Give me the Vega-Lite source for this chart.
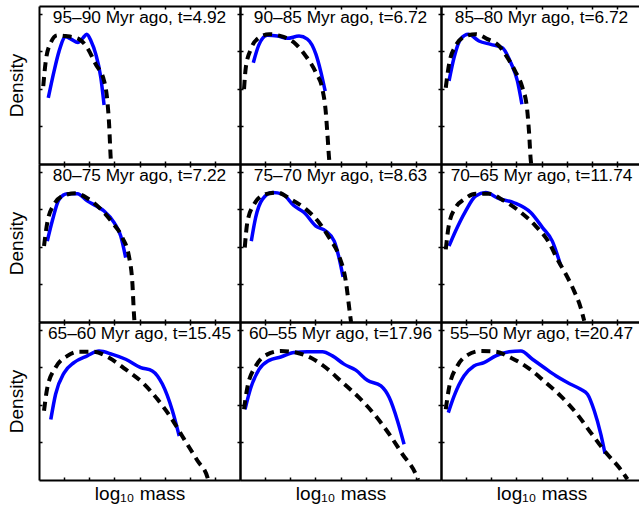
{
"$schema":"https://vega.github.io/schema/vega-lite/v6.json",
"padding":{"left":7,"top":5,"right":0,"bottom":0},
"background":"white",
"config":{
 "view":{"stroke":null},
 "title":{"font":"Liberation Sans","fontSize":17.3,"fontWeight":"normal","color":"black","offset":-21,"anchor":"middle","frame":"group","baseline":"alphabetic"},
 "axis":{"labels":false,"grid":false,"domainColor":"black","domainWidth":2,"tickColor":"black","tickWidth":1.5,"tickSize":-3,"titleFont":"Liberation Sans","titleFontSize":19,"titleFontWeight":"normal","titleColor":"black"},
 "axisX":{"titlePadding":4},
 "axisY":{"titlePadding":12}
},
"data":{"values":[
{"p":1,"s":"o","x":0.37,"y":1.76},{"p":1,"s":"o","x":0.6,"y":2.47},{"p":1,"s":"o","x":0.8,"y":3.0},{"p":1,"s":"o","x":1.06,"y":3.38},{"p":1,"s":"o","x":1.27,"y":3.32},{"p":1,"s":"o","x":1.55,"y":3.23},{"p":1,"s":"o","x":1.75,"y":3.35},{"p":1,"s":"o","x":1.9,"y":3.45},{"p":1,"s":"o","x":2.07,"y":3.27},{"p":1,"s":"o","x":2.26,"y":2.92},{"p":1,"s":"o","x":2.46,"y":2.3},{"p":1,"s":"o","x":2.59,"y":1.57},
{"p":1,"s":"f","x":0.17,"y":2.07},{"p":1,"s":"f","x":0.27,"y":2.74},{"p":1,"s":"f","x":0.47,"y":3.23},{"p":1,"s":"f","x":0.73,"y":3.42},{"p":1,"s":"f","x":1.06,"y":3.4},{"p":1,"s":"f","x":1.59,"y":3.32},{"p":1,"s":"f","x":1.92,"y":3.09},{"p":1,"s":"f","x":2.26,"y":2.65},{"p":1,"s":"f","x":2.59,"y":2.21},{"p":1,"s":"f","x":2.72,"y":1.68},{"p":1,"s":"f","x":2.79,"y":1.06},{"p":1,"s":"f","x":2.85,"y":0.21},{"p":1,"s":"f","x":2.87,"y":0},
{"p":2,"s":"o","x":0.53,"y":2.69},{"p":2,"s":"o","x":0.76,"y":3.18},{"p":2,"s":"o","x":1.09,"y":3.42},{"p":2,"s":"o","x":1.49,"y":3.4},{"p":2,"s":"o","x":1.88,"y":3.34},{"p":2,"s":"o","x":2.35,"y":3.4},{"p":2,"s":"o","x":2.68,"y":3.32},{"p":2,"s":"o","x":3.02,"y":2.92},{"p":2,"s":"o","x":3.21,"y":2.47},{"p":2,"s":"o","x":3.39,"y":1.94},
{"p":2,"s":"f","x":0.16,"y":1.99},{"p":2,"s":"f","x":0.23,"y":2.56},{"p":2,"s":"f","x":0.43,"y":3.05},{"p":2,"s":"f","x":0.76,"y":3.36},{"p":2,"s":"f","x":1.16,"y":3.45},{"p":2,"s":"f","x":1.62,"y":3.4},{"p":2,"s":"f","x":2.15,"y":3.23},{"p":2,"s":"f","x":2.62,"y":2.87},{"p":2,"s":"f","x":3.02,"y":2.43},{"p":2,"s":"f","x":3.28,"y":1.99},{"p":2,"s":"f","x":3.41,"y":1.41},{"p":2,"s":"f","x":3.48,"y":0.79},{"p":2,"s":"f","x":3.55,"y":0.12},{"p":2,"s":"f","x":3.57,"y":0},
{"p":3,"s":"o","x":0.32,"y":2.21},{"p":3,"s":"o","x":0.52,"y":2.83},{"p":3,"s":"o","x":0.78,"y":3.32},{"p":3,"s":"o","x":1.09,"y":3.45},{"p":3,"s":"o","x":1.51,"y":3.27},{"p":3,"s":"o","x":1.98,"y":3.18},{"p":3,"s":"o","x":2.44,"y":3.09},{"p":3,"s":"o","x":2.78,"y":2.69},{"p":3,"s":"o","x":3.04,"y":2.21},{"p":3,"s":"o","x":3.22,"y":1.59},
{"p":3,"s":"f","x":0.19,"y":2.03},{"p":3,"s":"f","x":0.32,"y":2.65},{"p":3,"s":"f","x":0.58,"y":3.14},{"p":3,"s":"f","x":0.92,"y":3.38},{"p":3,"s":"f","x":1.38,"y":3.45},{"p":3,"s":"f","x":1.85,"y":3.32},{"p":3,"s":"f","x":2.31,"y":3.14},{"p":3,"s":"f","x":2.64,"y":2.83},{"p":3,"s":"f","x":2.95,"y":2.47},{"p":3,"s":"f","x":3.24,"y":2.03},{"p":3,"s":"f","x":3.42,"y":1.5},{"p":3,"s":"f","x":3.51,"y":0.79},{"p":3,"s":"f","x":3.57,"y":0.12},{"p":3,"s":"f","x":3.59,"y":0},
{"p":4,"s":"o","x":0.33,"y":2.15},{"p":4,"s":"o","x":0.53,"y":2.69},{"p":4,"s":"o","x":0.8,"y":3.26},{"p":4,"s":"o","x":1.13,"y":3.41},{"p":4,"s":"o","x":1.53,"y":3.41},{"p":4,"s":"o","x":1.92,"y":3.22},{"p":4,"s":"o","x":2.26,"y":3.09},{"p":4,"s":"o","x":2.59,"y":2.95},{"p":4,"s":"o","x":2.99,"y":2.64},{"p":4,"s":"o","x":3.25,"y":2.29},{"p":4,"s":"o","x":3.45,"y":1.71},
{"p":4,"s":"f","x":0.2,"y":2.02},{"p":4,"s":"f","x":0.33,"y":2.64},{"p":4,"s":"f","x":0.6,"y":3.13},{"p":4,"s":"f","x":1.0,"y":3.37},{"p":4,"s":"f","x":1.46,"y":3.42},{"p":4,"s":"f","x":1.99,"y":3.26},{"p":4,"s":"f","x":2.46,"y":3.0},{"p":4,"s":"f","x":2.92,"y":2.64},{"p":4,"s":"f","x":3.32,"y":2.24},{"p":4,"s":"f","x":3.59,"y":1.71},{"p":4,"s":"f","x":3.72,"y":1.0},{"p":4,"s":"f","x":3.78,"y":0.2},{"p":4,"s":"f","x":3.8,"y":0},
{"p":5,"s":"o","x":0.45,"y":2.15},{"p":5,"s":"o","x":0.62,"y":2.77},{"p":5,"s":"o","x":0.89,"y":3.26},{"p":5,"s":"o","x":1.29,"y":3.44},{"p":5,"s":"o","x":1.69,"y":3.4},{"p":5,"s":"o","x":2.15,"y":3.09},{"p":5,"s":"o","x":2.55,"y":2.91},{"p":5,"s":"o","x":3.02,"y":2.55},{"p":5,"s":"o","x":3.41,"y":2.42},{"p":5,"s":"o","x":3.75,"y":2.15},{"p":5,"s":"o","x":3.94,"y":1.71},{"p":5,"s":"o","x":4.1,"y":1.2},
{"p":5,"s":"f","x":0.19,"y":1.98},{"p":5,"s":"f","x":0.29,"y":2.64},{"p":5,"s":"f","x":0.56,"y":3.13},{"p":5,"s":"f","x":1.02,"y":3.4},{"p":5,"s":"f","x":1.49,"y":3.44},{"p":5,"s":"f","x":2.02,"y":3.26},{"p":5,"s":"f","x":2.62,"y":3.0},{"p":5,"s":"f","x":3.15,"y":2.64},{"p":5,"s":"f","x":3.55,"y":2.24},{"p":5,"s":"f","x":3.94,"y":1.76},{"p":5,"s":"f","x":4.21,"y":1.09},{"p":5,"s":"f","x":4.38,"y":0.2},{"p":5,"s":"f","x":4.42,"y":0},
{"p":6,"s":"o","x":0.32,"y":2.02},{"p":6,"s":"o","x":0.58,"y":2.42},{"p":6,"s":"o","x":0.98,"y":2.95},{"p":6,"s":"o","x":1.38,"y":3.35},{"p":6,"s":"o","x":1.78,"y":3.44},{"p":6,"s":"o","x":2.31,"y":3.28},{"p":6,"s":"o","x":2.91,"y":3.17},{"p":6,"s":"o","x":3.57,"y":2.91},{"p":6,"s":"o","x":4.04,"y":2.51},{"p":6,"s":"o","x":4.43,"y":2.15},{"p":6,"s":"o","x":4.77,"y":1.49},
{"p":6,"s":"f","x":0.19,"y":1.93},{"p":6,"s":"f","x":0.32,"y":2.6},{"p":6,"s":"f","x":0.58,"y":3.04},{"p":6,"s":"f","x":0.92,"y":3.26},{"p":6,"s":"f","x":1.38,"y":3.41},{"p":6,"s":"f","x":1.91,"y":3.41},{"p":6,"s":"f","x":2.51,"y":3.22},{"p":6,"s":"f","x":3.11,"y":2.95},{"p":6,"s":"f","x":3.77,"y":2.55},{"p":6,"s":"f","x":4.3,"y":2.11},{"p":6,"s":"f","x":4.63,"y":1.67},{"p":6,"s":"f","x":4.97,"y":1.27},{"p":6,"s":"f","x":5.3,"y":0.82},{"p":6,"s":"f","x":5.56,"y":0.38},{"p":6,"s":"f","x":5.7,"y":0.03},
{"p":7,"s":"o","x":0.47,"y":1.61},{"p":7,"s":"o","x":0.66,"y":2.28},{"p":7,"s":"o","x":1.0,"y":2.85},{"p":7,"s":"o","x":1.39,"y":3.12},{"p":7,"s":"o","x":1.92,"y":3.3},{"p":7,"s":"o","x":2.39,"y":3.43},{"p":7,"s":"o","x":2.92,"y":3.34},{"p":7,"s":"o","x":3.45,"y":3.21},{"p":7,"s":"o","x":4.05,"y":2.99},{"p":7,"s":"o","x":4.51,"y":2.9},{"p":7,"s":"o","x":4.91,"y":2.55},{"p":7,"s":"o","x":5.31,"y":1.84},{"p":7,"s":"o","x":5.58,"y":1.17},
{"p":7,"s":"f","x":0.2,"y":1.84},{"p":7,"s":"f","x":0.33,"y":2.45},{"p":7,"s":"f","x":0.66,"y":2.99},{"p":7,"s":"f","x":1.13,"y":3.3},{"p":7,"s":"f","x":1.59,"y":3.41},{"p":7,"s":"f","x":2.19,"y":3.41},{"p":7,"s":"f","x":2.79,"y":3.25},{"p":7,"s":"f","x":3.45,"y":2.94},{"p":7,"s":"f","x":4.12,"y":2.59},{"p":7,"s":"f","x":4.71,"y":2.15},{"p":7,"s":"f","x":5.25,"y":1.66},{"p":7,"s":"f","x":5.78,"y":1.08},{"p":7,"s":"f","x":6.31,"y":0.51},{"p":7,"s":"f","x":6.71,"y":0.06},{"p":7,"s":"f","x":6.73,"y":0},
{"p":8,"s":"o","x":0.2,"y":1.88},{"p":8,"s":"o","x":0.43,"y":2.45},{"p":8,"s":"o","x":0.76,"y":2.94},{"p":8,"s":"o","x":1.16,"y":3.18},{"p":8,"s":"o","x":1.62,"y":3.27},{"p":8,"s":"o","x":2.15,"y":3.39},{"p":8,"s":"o","x":2.68,"y":3.41},{"p":8,"s":"o","x":3.28,"y":3.41},{"p":8,"s":"o","x":3.68,"y":3.3},{"p":8,"s":"o","x":4.14,"y":3.08},{"p":8,"s":"o","x":4.61,"y":2.92},{"p":8,"s":"o","x":5.07,"y":2.65},{"p":8,"s":"o","x":5.61,"y":2.5},{"p":8,"s":"o","x":5.94,"y":2.19},{"p":8,"s":"o","x":6.27,"y":1.57},{"p":8,"s":"o","x":6.53,"y":0.95},
{"p":8,"s":"f","x":0.16,"y":1.88},{"p":8,"s":"f","x":0.29,"y":2.45},{"p":8,"s":"f","x":0.63,"y":3.03},{"p":8,"s":"f","x":1.09,"y":3.34},{"p":8,"s":"f","x":1.62,"y":3.43},{"p":8,"s":"f","x":2.22,"y":3.39},{"p":8,"s":"f","x":2.82,"y":3.25},{"p":8,"s":"f","x":3.41,"y":2.99},{"p":8,"s":"f","x":4.08,"y":2.59},{"p":8,"s":"f","x":4.74,"y":2.19},{"p":8,"s":"f","x":5.34,"y":1.75},{"p":8,"s":"f","x":5.94,"y":1.22},{"p":8,"s":"f","x":6.47,"y":0.68},{"p":8,"s":"f","x":7.0,"y":0.15},{"p":8,"s":"f","x":7.09,"y":0},
{"p":9,"s":"o","x":0.29,"y":1.79},{"p":9,"s":"o","x":0.52,"y":2.23},{"p":9,"s":"o","x":0.92,"y":2.77},{"p":9,"s":"o","x":1.31,"y":3.03},{"p":9,"s":"o","x":1.71,"y":3.12},{"p":9,"s":"o","x":2.18,"y":3.3},{"p":9,"s":"o","x":2.71,"y":3.41},{"p":9,"s":"o","x":3.18,"y":3.43},{"p":9,"s":"o","x":3.64,"y":3.21},{"p":9,"s":"o","x":4.1,"y":2.99},{"p":9,"s":"o","x":4.57,"y":2.77},{"p":9,"s":"o","x":5.03,"y":2.59},{"p":9,"s":"o","x":5.56,"y":2.41},{"p":9,"s":"o","x":5.83,"y":2.28},{"p":9,"s":"o","x":6.1,"y":1.84},{"p":9,"s":"o","x":6.36,"y":1.22},{"p":9,"s":"o","x":6.53,"y":0.7},
{"p":9,"s":"f","x":0.19,"y":1.88},{"p":9,"s":"f","x":0.32,"y":2.45},{"p":9,"s":"f","x":0.65,"y":3.03},{"p":9,"s":"f","x":1.05,"y":3.32},{"p":9,"s":"f","x":1.58,"y":3.43},{"p":9,"s":"f","x":2.18,"y":3.41},{"p":9,"s":"f","x":2.78,"y":3.25},{"p":9,"s":"f","x":3.45,"y":2.99},{"p":9,"s":"f","x":4.1,"y":2.63},{"p":9,"s":"f","x":4.77,"y":2.23},{"p":9,"s":"f","x":5.37,"y":1.79},{"p":9,"s":"f","x":5.96,"y":1.26},{"p":9,"s":"f","x":6.56,"y":0.73},{"p":9,"s":"f","x":7.09,"y":0.33},{"p":9,"s":"f","x":7.42,"y":0.02}
]},
"columns":3,
"spacing":0,
"align":"each",
"bounds":"flush",
"concat":[
{"width":201,"height":158,"title":"95–90 Myr ago, t=4.92","transform":[{"filter":"datum.p==1"}],
 "layer":[
  {"transform":[{"filter":"datum.s=='o'"}],"mark":{"type":"line","color":"#0000ff","strokeWidth":3.5,"interpolate":"monotone"},
   "encoding":{"x":{"field":"x","type":"quantitative","scale":{"domain":[0,8],"nice":false},"axis":{"orient":"bottom","title":null,"values":[1,2,3,4,5,6,7]}},
               "y":{"field":"y","type":"quantitative","scale":{"domain":[0,4.2],"nice":false},"axis":{"orient":"left","title":"Density","values":[1,2,3,4]}}}},
  {"transform":[{"filter":"datum.s=='f'"}],"mark":{"type":"line","color":"black","strokeWidth":4,"strokeDash":[9,6],"interpolate":"monotone"},
   "encoding":{"x":{"field":"x","type":"quantitative","scale":{"domain":[0,8],"nice":false},"axis":{"orient":"top","title":null,"values":[1,2,3,4,5,6,7]}},
               "y":{"field":"y","type":"quantitative","scale":{"domain":[0,4.2],"nice":false},"axis":{"orient":"right","title":null,"values":[1,2,3,4]}}}}
 ],
 "resolve":{"axis":{"x":"independent","y":"independent"}}},
{"width":201,"height":158,"title":"90–85 Myr ago, t=6.72","transform":[{"filter":"datum.p==2"}],
 "layer":[
  {"transform":[{"filter":"datum.s=='o'"}],"mark":{"type":"line","color":"#0000ff","strokeWidth":3.5,"interpolate":"monotone"},
   "encoding":{"x":{"field":"x","type":"quantitative","scale":{"domain":[0,8],"nice":false},"axis":{"orient":"bottom","title":null,"values":[1,2,3,4,5,6,7]}},
               "y":{"field":"y","type":"quantitative","scale":{"domain":[0,4.2],"nice":false},"axis":{"orient":"left","title":null,"values":[1,2,3,4]}}}},
  {"transform":[{"filter":"datum.s=='f'"}],"mark":{"type":"line","color":"black","strokeWidth":4,"strokeDash":[9,6],"interpolate":"monotone"},
   "encoding":{"x":{"field":"x","type":"quantitative","scale":{"domain":[0,8],"nice":false},"axis":{"orient":"top","title":null,"values":[1,2,3,4,5,6,7]}},
               "y":{"field":"y","type":"quantitative","scale":{"domain":[0,4.2],"nice":false},"axis":{"orient":"right","title":null,"values":[1,2,3,4]}}}}
 ],
 "resolve":{"axis":{"x":"independent","y":"independent"}}},
{"width":201,"height":158,"title":"85–80 Myr ago, t=6.72","transform":[{"filter":"datum.p==3"}],
 "layer":[
  {"transform":[{"filter":"datum.s=='o'"}],"mark":{"type":"line","color":"#0000ff","strokeWidth":3.5,"interpolate":"monotone"},
   "encoding":{"x":{"field":"x","type":"quantitative","scale":{"domain":[0,8],"nice":false},"axis":{"orient":"bottom","title":null,"values":[1,2,3,4,5,6,7]}},
               "y":{"field":"y","type":"quantitative","scale":{"domain":[0,4.2],"nice":false},"axis":{"orient":"left","title":null,"values":[1,2,3,4]}}}},
  {"transform":[{"filter":"datum.s=='f'"}],"mark":{"type":"line","color":"black","strokeWidth":4,"strokeDash":[9,6],"interpolate":"monotone"},
   "encoding":{"x":{"field":"x","type":"quantitative","scale":{"domain":[0,8],"nice":false},"axis":{"orient":"top","title":null,"values":[1,2,3,4,5,6,7]}},
               "y":{"field":"y","type":"quantitative","scale":{"domain":[0,4.2],"nice":false},"axis":{"orient":"right","title":null,"values":[1,2,3,4]}}}}
 ],
 "resolve":{"axis":{"x":"independent","y":"independent"}}},
{"width":201,"height":158,"title":"80–75 Myr ago, t=7.22","transform":[{"filter":"datum.p==4"}],
 "layer":[
  {"transform":[{"filter":"datum.s=='o'"}],"mark":{"type":"line","color":"#0000ff","strokeWidth":3.5,"interpolate":"monotone"},
   "encoding":{"x":{"field":"x","type":"quantitative","scale":{"domain":[0,8],"nice":false},"axis":{"orient":"bottom","title":null,"values":[1,2,3,4,5,6,7]}},
               "y":{"field":"y","type":"quantitative","scale":{"domain":[0,4.2],"nice":false},"axis":{"orient":"left","title":"Density","values":[1,2,3,4]}}}},
  {"transform":[{"filter":"datum.s=='f'"}],"mark":{"type":"line","color":"black","strokeWidth":4,"strokeDash":[9,6],"interpolate":"monotone"},
   "encoding":{"x":{"field":"x","type":"quantitative","scale":{"domain":[0,8],"nice":false},"axis":{"orient":"top","title":null,"values":[1,2,3,4,5,6,7]}},
               "y":{"field":"y","type":"quantitative","scale":{"domain":[0,4.2],"nice":false},"axis":{"orient":"right","title":null,"values":[1,2,3,4]}}}}
 ],
 "resolve":{"axis":{"x":"independent","y":"independent"}}},
{"width":201,"height":158,"title":"75–70 Myr ago, t=8.63","transform":[{"filter":"datum.p==5"}],
 "layer":[
  {"transform":[{"filter":"datum.s=='o'"}],"mark":{"type":"line","color":"#0000ff","strokeWidth":3.5,"interpolate":"monotone"},
   "encoding":{"x":{"field":"x","type":"quantitative","scale":{"domain":[0,8],"nice":false},"axis":{"orient":"bottom","title":null,"values":[1,2,3,4,5,6,7]}},
               "y":{"field":"y","type":"quantitative","scale":{"domain":[0,4.2],"nice":false},"axis":{"orient":"left","title":null,"values":[1,2,3,4]}}}},
  {"transform":[{"filter":"datum.s=='f'"}],"mark":{"type":"line","color":"black","strokeWidth":4,"strokeDash":[9,6],"interpolate":"monotone"},
   "encoding":{"x":{"field":"x","type":"quantitative","scale":{"domain":[0,8],"nice":false},"axis":{"orient":"top","title":null,"values":[1,2,3,4,5,6,7]}},
               "y":{"field":"y","type":"quantitative","scale":{"domain":[0,4.2],"nice":false},"axis":{"orient":"right","title":null,"values":[1,2,3,4]}}}}
 ],
 "resolve":{"axis":{"x":"independent","y":"independent"}}},
{"width":201,"height":158,"title":"70–65 Myr ago, t=11.74","transform":[{"filter":"datum.p==6"}],
 "layer":[
  {"transform":[{"filter":"datum.s=='o'"}],"mark":{"type":"line","color":"#0000ff","strokeWidth":3.5,"interpolate":"monotone"},
   "encoding":{"x":{"field":"x","type":"quantitative","scale":{"domain":[0,8],"nice":false},"axis":{"orient":"bottom","title":null,"values":[1,2,3,4,5,6,7]}},
               "y":{"field":"y","type":"quantitative","scale":{"domain":[0,4.2],"nice":false},"axis":{"orient":"left","title":null,"values":[1,2,3,4]}}}},
  {"transform":[{"filter":"datum.s=='f'"}],"mark":{"type":"line","color":"black","strokeWidth":4,"strokeDash":[9,6],"interpolate":"monotone"},
   "encoding":{"x":{"field":"x","type":"quantitative","scale":{"domain":[0,8],"nice":false},"axis":{"orient":"top","title":null,"values":[1,2,3,4,5,6,7]}},
               "y":{"field":"y","type":"quantitative","scale":{"domain":[0,4.2],"nice":false},"axis":{"orient":"right","title":null,"values":[1,2,3,4]}}}}
 ],
 "resolve":{"axis":{"x":"independent","y":"independent"}}},
{"width":201,"height":158,"title":"65–60 Myr ago, t=15.45","transform":[{"filter":"datum.p==7"}],
 "layer":[
  {"transform":[{"filter":"datum.s=='o'"}],"mark":{"type":"line","color":"#0000ff","strokeWidth":3.5,"interpolate":"monotone"},
   "encoding":{"x":{"field":"x","type":"quantitative","scale":{"domain":[0,8],"nice":false},"axis":{"orient":"bottom","title":"log₁₀ mass","values":[1,2,3,4,5,6,7]}},
               "y":{"field":"y","type":"quantitative","scale":{"domain":[0,4.2],"nice":false},"axis":{"orient":"left","title":"Density","values":[1,2,3,4]}}}},
  {"transform":[{"filter":"datum.s=='f'"}],"mark":{"type":"line","color":"black","strokeWidth":4,"strokeDash":[9,6],"interpolate":"monotone"},
   "encoding":{"x":{"field":"x","type":"quantitative","scale":{"domain":[0,8],"nice":false},"axis":{"orient":"top","title":null,"values":[1,2,3,4,5,6,7]}},
               "y":{"field":"y","type":"quantitative","scale":{"domain":[0,4.2],"nice":false},"axis":{"orient":"right","title":null,"values":[1,2,3,4]}}}}
 ],
 "resolve":{"axis":{"x":"independent","y":"independent"}}},
{"width":201,"height":158,"title":"60–55 Myr ago, t=17.96","transform":[{"filter":"datum.p==8"}],
 "layer":[
  {"transform":[{"filter":"datum.s=='o'"}],"mark":{"type":"line","color":"#0000ff","strokeWidth":3.5,"interpolate":"monotone"},
   "encoding":{"x":{"field":"x","type":"quantitative","scale":{"domain":[0,8],"nice":false},"axis":{"orient":"bottom","title":"log₁₀ mass","values":[1,2,3,4,5,6,7]}},
               "y":{"field":"y","type":"quantitative","scale":{"domain":[0,4.2],"nice":false},"axis":{"orient":"left","title":null,"values":[1,2,3,4]}}}},
  {"transform":[{"filter":"datum.s=='f'"}],"mark":{"type":"line","color":"black","strokeWidth":4,"strokeDash":[9,6],"interpolate":"monotone"},
   "encoding":{"x":{"field":"x","type":"quantitative","scale":{"domain":[0,8],"nice":false},"axis":{"orient":"top","title":null,"values":[1,2,3,4,5,6,7]}},
               "y":{"field":"y","type":"quantitative","scale":{"domain":[0,4.2],"nice":false},"axis":{"orient":"right","title":null,"values":[1,2,3,4]}}}}
 ],
 "resolve":{"axis":{"x":"independent","y":"independent"}}},
{"width":201,"height":158,"title":"55–50 Myr ago, t=20.47","transform":[{"filter":"datum.p==9"}],
 "layer":[
  {"transform":[{"filter":"datum.s=='o'"}],"mark":{"type":"line","color":"#0000ff","strokeWidth":3.5,"interpolate":"monotone"},
   "encoding":{"x":{"field":"x","type":"quantitative","scale":{"domain":[0,8],"nice":false},"axis":{"orient":"bottom","title":"log₁₀ mass","values":[1,2,3,4,5,6,7]}},
               "y":{"field":"y","type":"quantitative","scale":{"domain":[0,4.2],"nice":false},"axis":{"orient":"left","title":null,"values":[1,2,3,4]}}}},
  {"transform":[{"filter":"datum.s=='f'"}],"mark":{"type":"line","color":"black","strokeWidth":4,"strokeDash":[9,6],"interpolate":"monotone"},
   "encoding":{"x":{"field":"x","type":"quantitative","scale":{"domain":[0,8],"nice":false},"axis":{"orient":"top","title":null,"values":[1,2,3,4,5,6,7]}},
               "y":{"field":"y","type":"quantitative","scale":{"domain":[0,4.2],"nice":false},"axis":{"orient":"right","title":null,"values":[1,2,3,4]}}}}
 ],
 "resolve":{"axis":{"x":"independent","y":"independent"}}}
]
}
